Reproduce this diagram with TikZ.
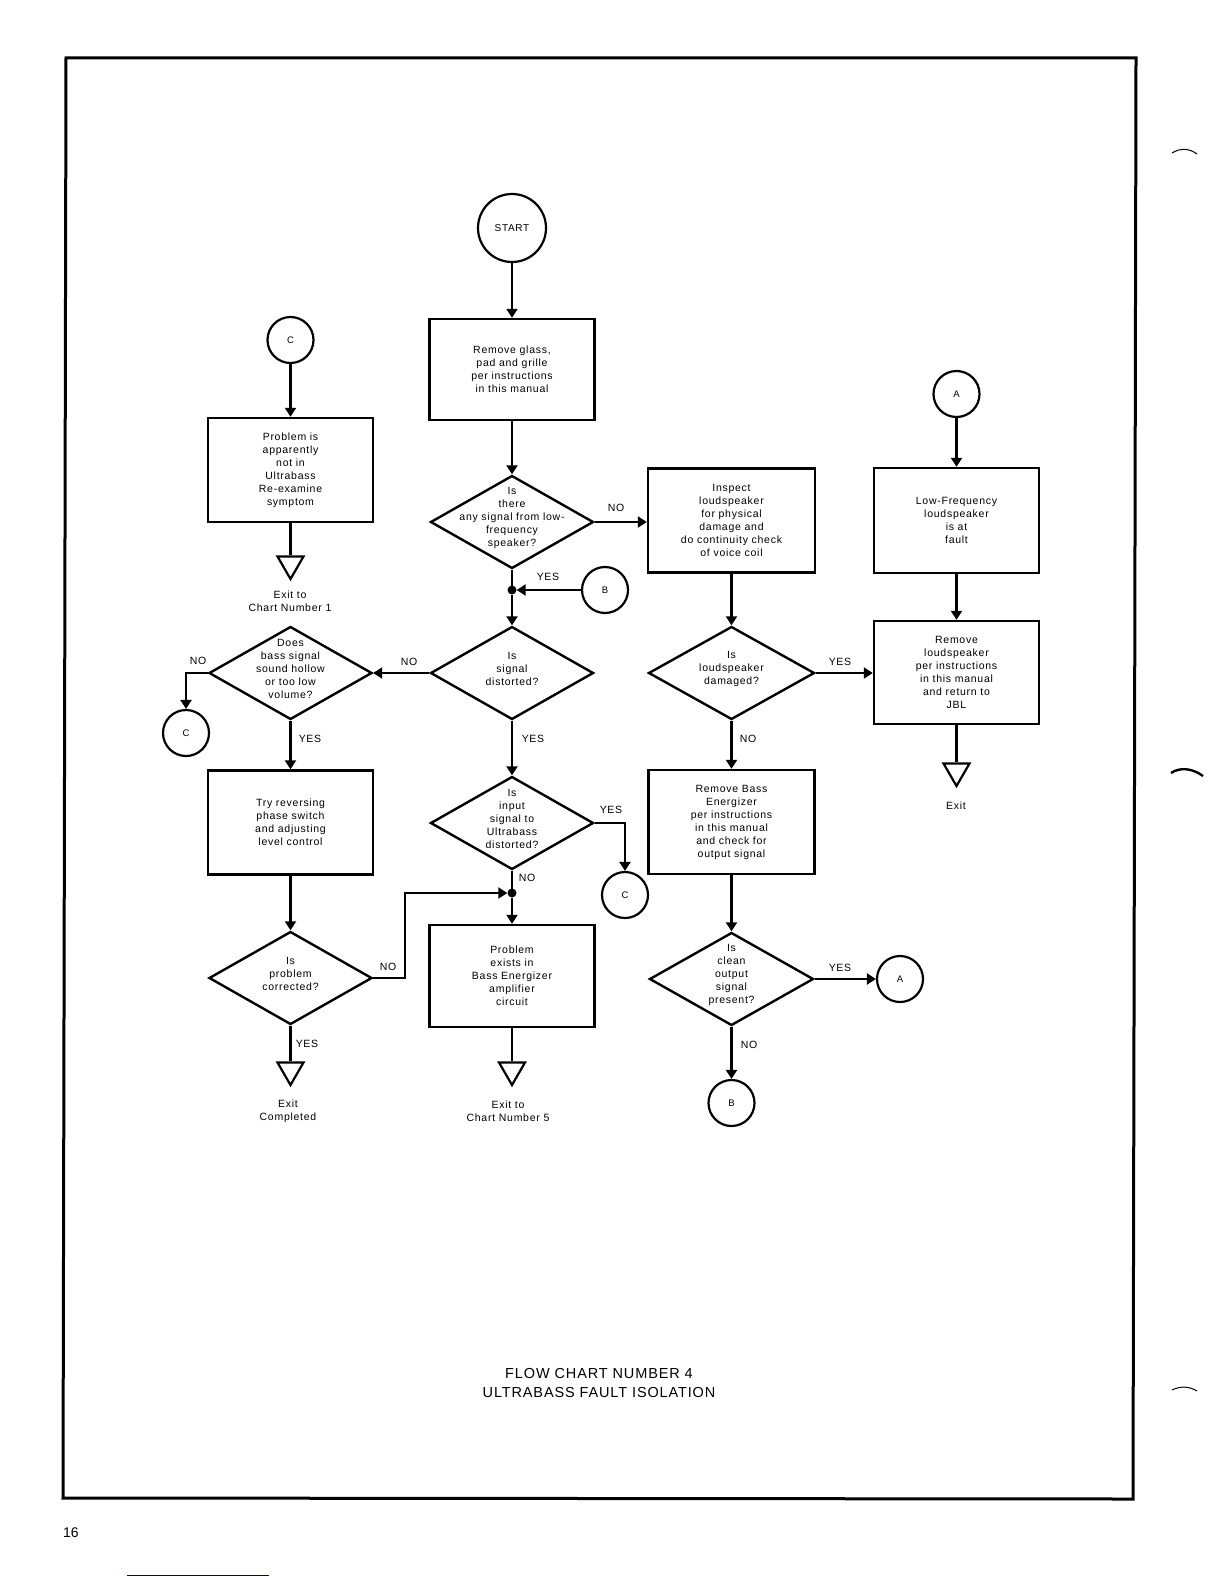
\documentclass[tikz,border=0pt]{standalone}
\usepackage{fontspec}
\newfontfamily\chartfont{Liberation Sans}[LetterSpace=7]
\newfontfamily\titlefont{Liberation Sans}[LetterSpace=6]
\newfontfamily\pagefont{Liberation Sans}
\usetikzlibrary{shapes.geometric, arrows.meta}

\begin{document}
\begin{tikzpicture}[x=1pt, y=-1pt,
    every node/.style={font=\chartfont\fontsize{10.5}{13}\selectfont},
    box/.style={draw, line width=2.4pt, minimum width=165pt, minimum height=104pt, align=center, inner sep=2pt},
    decision/.style={draw, diamond, line width=2.4pt, minimum width=163pt, minimum height=93pt, inner sep=0pt},
    qtext/.style={align=center, yshift=4pt},
    link/.style={draw, circle, line width=2.2pt, minimum size=46pt, inner sep=0pt, font=\chartfont\fontsize{9.5}{11}\selectfont},
    exitmark/.style={draw, regular polygon, regular polygon sides=3, shape border rotate=180, line width=2.2pt, minimum size=30pt, inner sep=0pt},
    exittext/.style={align=center},
    dot/.style={circle, fill, inner sep=0pt, minimum size=9pt},
    wire/.style={line width=2.2pt},
    arr/.style={wire, -{Triangle[length=9pt, width=11pt]}},
    ]
    \useasboundingbox (0,0) rectangle (1224,1584);

    % page frame
    \draw[line width=3pt] (66,58) -- (1136,58) -- (1133,1499) -- (63,1498) -- cycle;

    % centre column
    \node[link, minimum size=68pt, font=\chartfont\fontsize{10}{11}\selectfont] (start) at (512,228) {START};
    \node[box, minimum height=101pt] (glass) at (512,369.5) {Remove glass,\\pad and grille\\per instructions\\in this manual};
    \node[decision, label={[qtext]center:Is\\there\\any signal from low-\\frequency\\speaker?}] (q1) at (512,522) {};
    \node[dot] (j1) at (512,590) {};
    \node[link] (bR) at (605,590) {B};
    \node[decision, label={[qtext]center:Is\\signal\\distorted?}] (q2) at (512,673) {};
    \node[decision, label={[qtext]center:Is\\input\\signal to\\Ultrabass\\distorted?}] (q3) at (512,823) {};
    \node[link] (cR) at (625,895) {C};
    \node[dot] (j2) at (512,893) {};
    \node[box, minimum height=102pt] (exists) at (512,976) {Problem\\exists in\\Bass Energizer\\amplifier\\circuit};
    \node[exitmark] (exit5) at (512,1070) {};
    \node[exittext] (exit5t) at (508,1111.5) {Exit to\\Chart Number 5};

    % left column
    \node[link] (cTop) at (290.5,340) {C};
    \node[box] (notin) at (290.5,470) {Problem is\\apparently\\not in\\Ultrabass\\Re-examine\\symptom};
    \node[exitmark] (exit1) at (290.5,564) {};
    \node[exittext] (exit1t) at (290,601) {Exit to\\Chart Number 1};
    \node[decision, label={[qtext]center:Does\\bass signal\\sound hollow\\or too low\\volume?}] (q4) at (290.5,673) {};
    \node[link] (cL) at (186,733) {C};
    \node[box] (try) at (290.5,822.5) {Try reversing\\phase switch\\and adjusting\\level control};
    \node[decision, label={[qtext]center:Is\\problem\\corrected?}] (q5) at (290.5,978) {};
    \node[exitmark] (exit2) at (290.5,1070) {};
    \node[exittext] (exit2t) at (288,1111.5) {Exit\\Completed};

    % right column
    \node[box, minimum width=167pt] (inspect) at (731.5,520.5) {Inspect\\loudspeaker\\for physical\\damage and\\do continuity check\\of voice coil};
    \node[decision, minimum width=166pt, label={[qtext]center:Is\\loudspeaker\\damaged?}] (q6) at (731.5,673) {};
    \node[box, minimum width=166pt] (bass) at (731.5,822) {Remove Bass\\Energizer\\per instructions\\in this manual\\and check for\\output signal};
    \node[decision, minimum width=164pt, label={[qtext]center:Is\\clean\\output\\signal\\present?}] (q7) at (731.5,979) {};
    \node[link] (aR) at (900,979) {A};
    \node[link] (bB) at (731.5,1103) {B};

    % far right column
    \node[link] (aTop) at (956.5,394) {A};
    \node[box, minimum height=105pt] (lowfreq) at (956.5,520.5) {Low-Frequency\\loudspeaker\\is at\\fault};
    \node[box, minimum height=103pt] (jbl) at (956.5,672.5) {Remove\\loudspeaker\\per instructions\\in this manual\\and return to\\JBL};
    \node[exitmark] (exit3) at (956.5,771) {};
    \node (exit3t) at (956,806) {Exit};

    % branch labels
    \node (q1no) at (616,508) {NO};
    \node (q1yes) at (548,577) {YES};
    \node (q2no) at (409,662) {NO};
    \node (q2yes) at (533,739) {YES};
    \node (q3yes) at (611,810) {YES};
    \node (q3no) at (527,878) {NO};
    \node (q4no) at (198,661) {NO};
    \node (q4yes) at (310,739) {YES};
    \node (q5no) at (388,967) {NO};
    \node (q5yes) at (307,1044) {YES};
    \node (q6yes) at (840,662) {YES};
    \node (q6no) at (748,739) {NO};
    \node (q7yes) at (840,968) {YES};
    \node (q7no) at (749,1045) {NO};

    % connectors
    \draw[arr] (start) -- (glass);
    \draw[arr] (glass) -- (q1.north);
    \draw[arr] (q1.east) -- (inspect.west |- q1.east);
    \draw[wire] (q1.south) -- (j1.center);
    \draw[arr] (bR.west) -- (j1.east);
    \draw[arr] (j1) -- (q2.north);
    \draw[arr] (q2.west) -- (q4.east);
    \draw[arr] (q2.south) -- (q3.north);
    \draw[arr] (q3.east) -| (cR.north);
    \draw[wire] (q3.south) -- (j2.center);
    \draw[arr] (j2) -- (exists);
    \draw[wire] (exists) -- (exit5.north);

    \draw[arr] (cTop) -- (notin);
    \draw[wire] (notin) -- (exit1.north);
    \draw[arr] (q4.west) -| (cL.north);
    \draw[arr] (q4.south) -- (try);
    \draw[arr] (try) -- (q5.north);
    \draw[arr] (q5.east) -- ++(32,0) |- (j2.west);
    \draw[wire] (q5.south) -- (exit2.north);

    \draw[arr] (inspect) -- (q6.north);
    \draw[arr] (q6.east) -- (jbl.west |- q6.east);
    \draw[arr] (q6.south) -- (bass);
    \draw[arr] (bass) -- (q7.north);
    \draw[arr] (q7.east) -- (aR.west);
    \draw[arr] (q7.south) -- (bB.north);

    \draw[arr] (aTop) -- (lowfreq);
    \draw[arr] (lowfreq) -- (jbl);
    \draw[wire] (jbl) -- (exit3.north);

    % title and page number
    \node[align=center, font=\titlefont\fontsize{14.5}{19}\selectfont] (title) at (599,1382.5) {FLOW CHART NUMBER 4\\ULTRABASS FAULT ISOLATION};
    \node[font=\pagefont\fontsize{14}{16}\selectfont] (pagenum) at (71,1533) {16};

    % marks in the margin
    \draw[line width=1pt] (1172,153) .. controls (1180,148) and (1189,148) .. (1197,154);
    \draw[line width=2.4pt] (1171,773) .. controls (1180,767) and (1192,768) .. (1203,776);
    \draw[line width=1pt] (1172,1390) .. controls (1180,1386) and (1189,1386) .. (1197,1391);
    \draw[blue!60!black, line width=1pt] (127,1575) -- (269,1575);
\end{tikzpicture}
\end{document}
